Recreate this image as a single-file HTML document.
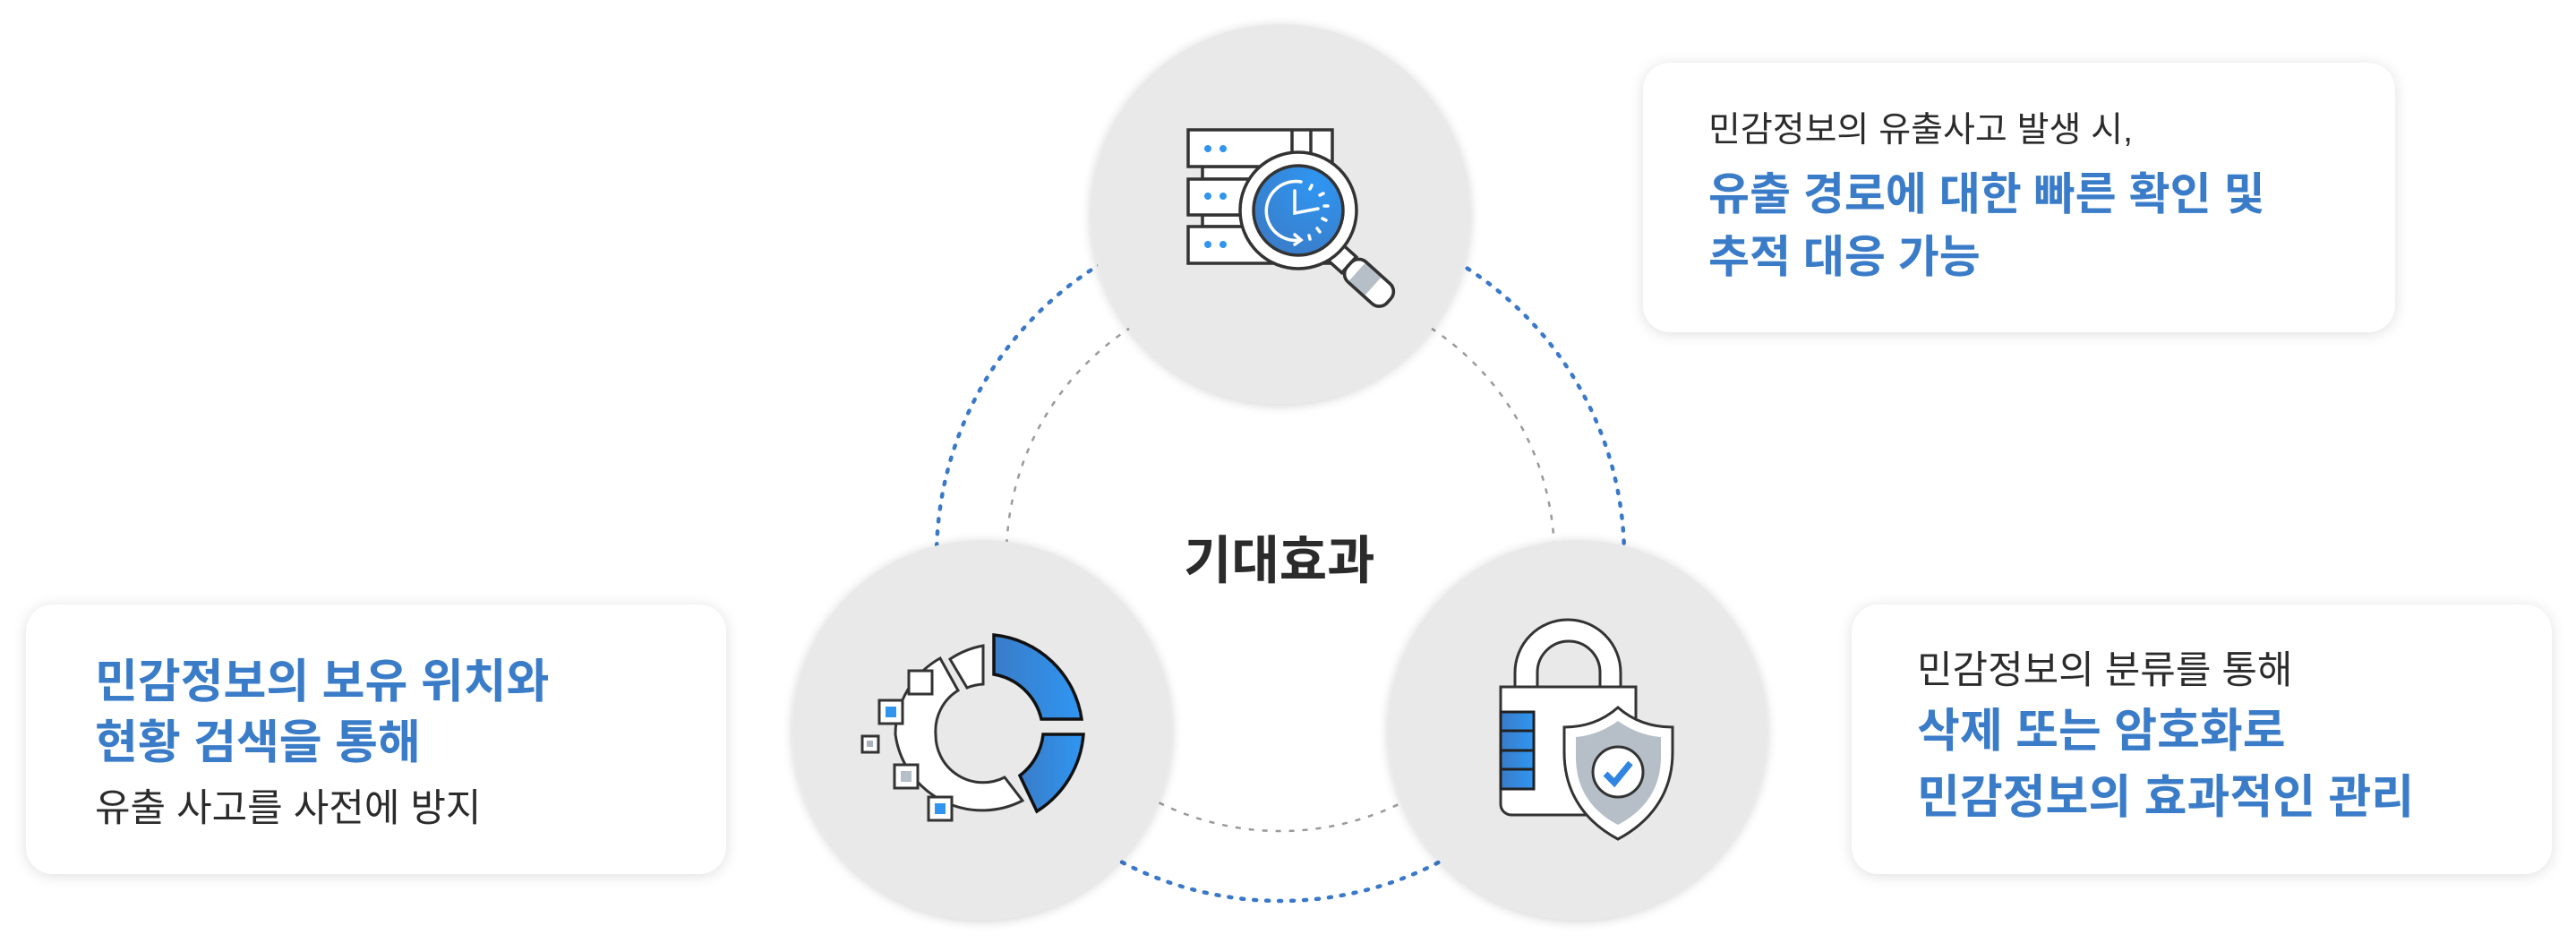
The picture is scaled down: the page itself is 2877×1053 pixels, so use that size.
<!DOCTYPE html>
<html><head><meta charset="utf-8"><style>
html,body{margin:0;padding:0;background:#fff;}
body{width:2877px;height:1053px;position:relative;overflow:hidden;font-family:"Liberation Sans","Noto Sans CJK KR",sans-serif;}
.card{position:absolute;background:#fff;border-radius:30px;box-shadow:0 2px 16px rgba(0,0,0,.13);}
.t{position:absolute;white-space:nowrap;line-height:1;}
.g{color:#2b2b2b;font-size:39px;}
.b{color:#3a7cc8;font-size:50px;font-weight:bold;}
.g2{color:#2b2b2b;font-size:43px;}
.b2{color:#3a7cc8;font-size:52px;font-weight:bold;}
svg{position:absolute;left:0;top:0;}
</style></head><body>
<svg width="2877" height="1053" viewBox="0 0 2877 1053">
<defs>
<linearGradient id="bl" x1="0" x2="1" y1="0" y2="0"><stop offset="0" stop-color="#3a7cc8"/><stop offset="1" stop-color="#2f96f2"/></linearGradient>
<radialGradient id="bg2" cx="0.7" cy="0.2" r="0.9"><stop offset="0" stop-color="#2f96f2"/><stop offset="1" stop-color="#3a7cc8"/></radialGradient>
<filter id="sh" x="-20%" y="-20%" width="140%" height="140%"><feGaussianBlur in="SourceAlpha" stdDeviation="6"/><feOffset dy="2"/><feComponentTransfer><feFuncA type="linear" slope="0.18"/></feComponentTransfer><feMerge><feMergeNode/><feMergeNode in="SourceGraphic"/></feMerge></filter>
</defs>
<circle cx="1430" cy="622" r="384" fill="none" stroke="#3a78c9" stroke-width="4.5" stroke-dasharray="3 11" stroke-linecap="round"/>
<circle cx="1430" cy="622" r="306" fill="none" stroke="#9a9a9a" stroke-width="2.5" stroke-dasharray="6 9"/>
<circle cx="1430" cy="239" r="212" fill="#e9e9e9" filter="url(#sh)"/>
<circle cx="1097" cy="815" r="212" fill="#e9e9e9" filter="url(#sh)"/>
<circle cx="1762" cy="815" r="212" fill="#e9e9e9" filter="url(#sh)"/>

<g stroke="#333" stroke-width="3.5" fill="#fff">
<rect x="1343" y="186" width="140" height="14"/>
<rect x="1343" y="240" width="140" height="13"/>
<rect x="1327" y="145" width="161" height="41"/>
<line x1="1443" y1="145" x2="1443" y2="186"/><line x1="1464" y1="145" x2="1464" y2="186"/>
<rect x="1327" y="200" width="161" height="40"/>
<rect x="1327" y="253" width="161" height="41"/>
</g>
<g fill="#2f95ee"><circle cx="1349" cy="166" r="4"/><circle cx="1366" cy="166" r="4"/><circle cx="1349" cy="219" r="4"/><circle cx="1366" cy="219" r="4"/><circle cx="1349" cy="273" r="4"/><circle cx="1366" cy="273" r="4"/></g>
<g stroke="#333" stroke-width="3.5">
<g transform="rotate(42 1497 287)">
<rect x="1490" y="275" width="20" height="24" fill="#fff"/>
<rect x="1510" y="272" width="60" height="30" rx="12" fill="#fff"/>
<rect x="1522" y="273.5" width="24" height="27" fill="#b6bec8" stroke="none"/>
<rect x="1510" y="272" width="60" height="30" rx="12" fill="none"/>
</g>
<circle cx="1450" cy="235" r="65" fill="#fff"/>
<circle cx="1450" cy="235" r="50" fill="url(#bg2)"/>
</g>
<g stroke="#fff" stroke-width="3.5" fill="none" stroke-linecap="round">
<path d="M1453 203 A33 33 0 1 0 1453 268"/>
<path d="M1446 262 L1453 268 L1446 273"/>
<path d="M1446 213 L1446 238 L1472 233"/>
<line x1="1465" y1="207" x2="1463" y2="211"/><line x1="1474" y1="218" x2="1478" y2="216"/><line x1="1479" y1="230" x2="1483" y2="230"/><line x1="1477" y1="244" x2="1481" y2="246"/><line x1="1471" y1="255" x2="1474" y2="259"/><line x1="1462" y1="263" x2="1463" y2="267"/>
</g>

<g stroke="#333" stroke-width="3" fill="#fff">
<path d="M1142 894 A98 98 0 0 1 1000 820 A98 98 0 0 1 1050 735 L1070 771 A53 53 0 0 0 1045 820 A53 53 0 0 0 1122 868 Z"/>
<path d="M1061 736 A98 98 0 0 1 1098 721 L1098 764 A55 55 0 0 0 1080 768 Z"/>
</g>
<g stroke="#111" stroke-width="3.5" fill="url(#bl)">
<path d="M1110 709 A110 110 0 0 1 1208 803 L1163 803 A66 66 0 0 0 1110 753 Z"/>
<path d="M1210 820 A112 112 0 0 1 1158 906 L1139 866 A66 66 0 0 0 1165 820 Z"/>
</g>
<g stroke="#333" stroke-width="3" fill="#fff">
<rect x="1015" y="749" width="26" height="26"/>
<rect x="982" y="782" width="26" height="26"/>
<rect x="963" y="822" width="18" height="18"/>
<rect x="999" y="854" width="26" height="26"/>
<rect x="1037" y="890" width="26" height="26"/>
</g>
<rect x="989" y="789" width="12" height="12" fill="#2f95ee"/>
<rect x="968" y="827" width="7" height="7" fill="#aab3bf"/>
<rect x="1006" y="861" width="12" height="12" fill="#b6bec8"/>
<rect x="1044" y="897" width="12" height="12" fill="#2f95ee"/>

<g stroke="#333" stroke-width="3" fill="#fff">
<path d="M1692 767 L1692 751 A59 59 0 0 1 1810 751 L1810 767 L1787 767 L1787 751 A35 35 0 0 0 1717 751 L1717 767 Z"/>
<path d="M1676 767 L1827 767 L1827 910 L1688 910 A12 12 0 0 1 1676 898 Z"/>
</g>
<g stroke="#222" stroke-width="3" fill="url(#bl)">
<rect x="1676" y="795" width="37" height="21"/><rect x="1676" y="816" width="37" height="22"/><rect x="1676" y="838" width="37" height="21"/><rect x="1676" y="859" width="37" height="22"/>
</g>
<path d="M1807 790 C1790 805 1770 812 1747 812 L1747 840 C1747 890 1775 920 1807 937 C1839 920 1868 890 1868 840 L1868 812 C1845 812 1824 805 1807 790 Z" fill="#fff" stroke="#333" stroke-width="3"/>
<path d="M1807 805 C1792 816 1775 822 1760 823 L1760 845 C1760 885 1782 908 1807 921 C1832 908 1855 885 1855 845 L1855 823 C1840 822 1822 816 1807 805 Z" fill="#b6bec8"/>
<circle cx="1807" cy="862" r="28" fill="#fff" stroke="#333" stroke-width="3"/>
<path d="M1793 864 L1803 874 L1821 852" fill="none" stroke="#2f85e0" stroke-width="7"/>
</svg>

<div class="t" style="left:1322px;top:598px;font-size:58px;font-weight:bold;color:#2b2b2b;">기대효과</div>

<div class="card" style="left:1835px;top:70px;width:840px;height:301px;"></div>
<div class="t g" style="left:1908px;top:126px;">민감정보의 유출사고 발생 시,</div>
<div class="t b" style="left:1908px;top:192px;">유출 경로에 대한 빠른 확인 및</div>
<div class="t b" style="left:1908px;top:262px;">추적 대응 가능</div>

<div class="card" style="left:29px;top:675px;width:782px;height:301px;"></div>
<div class="t b2" style="left:106px;top:736px;">민감정보의 보유 위치와</div>
<div class="t b2" style="left:106px;top:804px;">현황 검색을 통해</div>
<div class="t g2" style="left:106px;top:882px;">유출 사고를 사전에 방지</div>

<div class="card" style="left:2068px;top:675px;width:782px;height:301px;"></div>
<div class="t g2" style="left:2141px;top:728px;">민감정보의 분류를 통해</div>
<div class="t b2" style="left:2141px;top:791px;">삭제 또는 암호화로</div>
<div class="t b2" style="left:2141px;top:865px;">민감정보의 효과적인 관리</div>
</body></html>
